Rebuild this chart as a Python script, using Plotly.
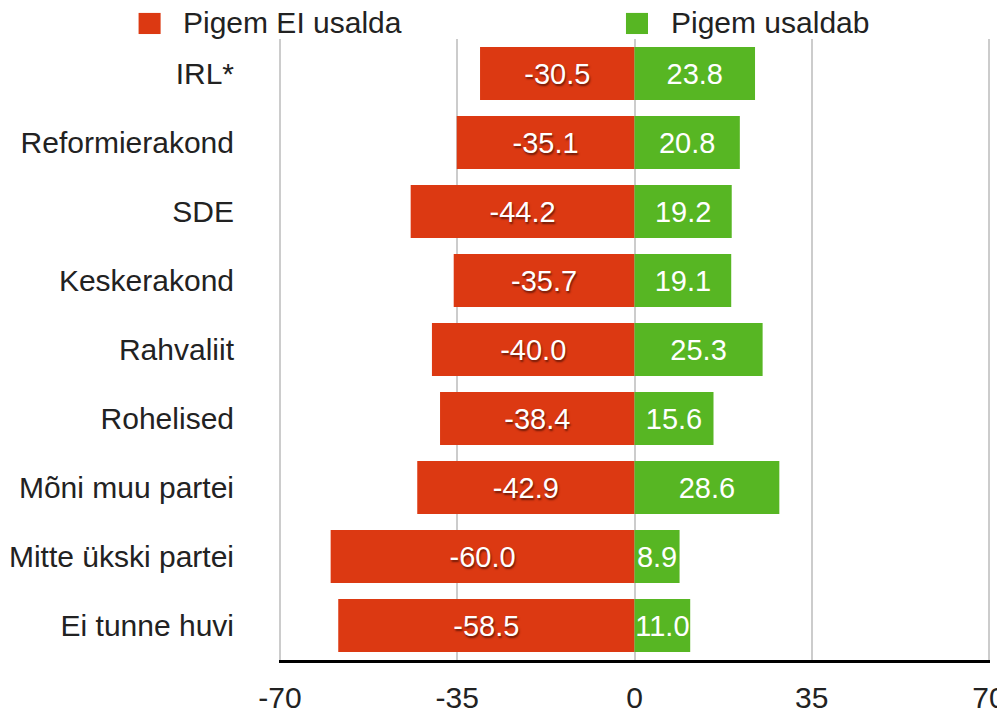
import plotly.graph_objects as go

# Parties, top to bottom
parties = [
    "IRL*",
    "Reformierakond",
    "SDE",
    "Keskerakond",
    "Rahvaliit",
    "Rohelised",
    "Mõni muu partei",
    "Mitte ükski partei",
    "Ei tunne huvi",
]
distrust = [-30.5, -35.1, -44.2, -35.7, -40.0, -38.4, -42.9, -60.0, -58.5]
trust = [23.8, 20.8, 19.2, 19.1, 25.3, 15.6, 28.6, 8.9, 11.0]
series_names = ["Pigem EI usalda", "Pigem usaldab"]
x_ticks = [-70, -35, 0, 35, 70]

RED = "#dc3912"
GREEN = "#57b623"
FONT = "Liberation Sans, Arial, sans-serif"

fig = go.Figure()

series = [
    (series_names[0], distrust, RED, "1px 2px 2px #6e1a08"),
    (series_names[1], trust, GREEN, "none"),
]
for name, values, color, shadow in series:
    fig.add_trace(
        go.Bar(
            y=parties,
            x=values,
            name=name,
            orientation="h",
            marker=dict(color=color, line=dict(width=0)),
            text=[f"{v:.1f}" for v in values],
            textposition="inside",
            insidetextanchor="middle",
            textangle=0,
            constraintext="none",
            textfont=dict(family=FONT, size=29, color="white", shadow=shadow),
            showlegend=False,
            hoverinfo="x+y",
        )
    )

# legend drawn by hand above the plot (big square swatches)
legend_pos = [(-0.1975, -0.1382), (0.488, 0.5487)]
for (name, _, color, _), (sx, tx) in zip(series, legend_pos):
    fig.add_shape(
        type="rect",
        xref="paper",
        yref="paper",
        x0=sx,
        x1=sx + 0.031,
        y0=1.008,
        y1=1.042,
        fillcolor=color,
        line=dict(width=0),
    )
    fig.add_annotation(
        text=name,
        xref="paper",
        yref="paper",
        x=tx,
        y=1.026,
        xanchor="left",
        yanchor="middle",
        showarrow=False,
        font=dict(family=FONT, size=30, color="#222"),
    )

# page body adds an 8px margin, so the figure is drawn 8px smaller
fig.update_layout(
    width=997,
    height=707,
    barmode="relative",
    bargap=0.23,
    plot_bgcolor="white",
    paper_bgcolor="white",
    font=dict(family=FONT, size=30, color="#222"),
    margin=dict(l=271, r=15, t=31, b=55, autoexpand=False),
    showlegend=False,
)

fig.update_xaxes(
    range=[-70.2, 70.2],
    tickvals=x_ticks,
    ticktext=[str(t) for t in x_ticks],
    ticklabeloverflow="allow",
    showgrid=True,
    gridcolor="#cccccc",
    gridwidth=2,
    zeroline=True,
    zerolinecolor="#cccccc",
    zerolinewidth=2,
    showline=True,
    linecolor="black",
    linewidth=3,
    ticks="",
    ticklabelstandoff=9,
    tickfont=dict(size=30, color="#222"),
)
fig.update_yaxes(
    categoryorder="array",
    categoryarray=parties,
    autorange="reversed",
    showgrid=False,
    ticks="",
    ticklabelstandoff=44,
    tickfont=dict(size=30, color="#222"),
)

fig.write_html("out.html")
